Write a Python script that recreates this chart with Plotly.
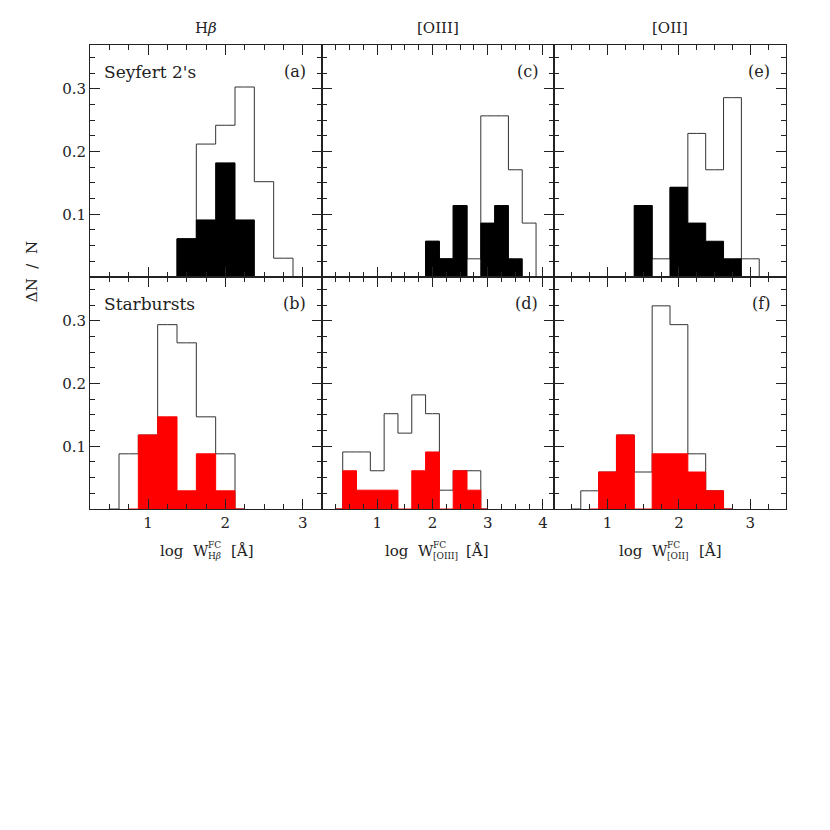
import plotly.graph_objects as go
from plotly.subplots import make_subplots

BIN = 0.25  # histogram bin width in log W

# --- data: bin centres and fractions dN/N ---
# top row: Seyfert 2's (outline = whole sample, filled = subsample)
hb_sy2_x = [1.5, 1.75, 2.0, 2.25, 2.5, 2.75]
hb_sy2_all = [0.061, 0.212, 0.242, 0.303, 0.152, 0.030]
hb_sy2_sub = [0.061, 0.091, 0.182, 0.091, 0.0, 0.0]

o3_sy2_x = [2.0, 2.25, 2.5, 2.75, 3.0, 3.25, 3.5, 3.75]
o3_sy2_all = [0.057, 0.029, 0.114, 0.029, 0.257, 0.257, 0.171, 0.086]
o3_sy2_sub = [0.057, 0.029, 0.114, 0.0, 0.086, 0.114, 0.029, 0.0]

o2_sy2_x = [1.5, 1.75, 2.0, 2.25, 2.5, 2.75, 3.0]
o2_sy2_all = [0.114, 0.029, 0.143, 0.229, 0.171, 0.286, 0.029]
o2_sy2_sub = [0.114, 0.0, 0.143, 0.086, 0.057, 0.029, 0.0]

# bottom row: Starbursts
hb_sb_x = [0.75, 1.0, 1.25, 1.5, 1.75, 2.0]
hb_sb_all = [0.088, 0.118, 0.294, 0.265, 0.147, 0.088]
hb_sb_sub = [0.0, 0.118, 0.147, 0.029, 0.088, 0.029]

o3_sb_x = [0.5, 0.75, 1.0, 1.25, 1.5, 1.75, 2.0, 2.25, 2.5, 2.75]
o3_sb_all = [0.091, 0.091, 0.061, 0.152, 0.121, 0.182, 0.152, 0.030, 0.061, 0.061]
o3_sb_sub = [0.061, 0.030, 0.030, 0.030, 0.0, 0.061, 0.091, 0.0, 0.061, 0.030]

o2_sb_x = [0.75, 1.0, 1.25, 1.5, 1.75, 2.0, 2.25, 2.5]
o2_sb_all = [0.029, 0.059, 0.118, 0.059, 0.324, 0.294, 0.088, 0.029]
o2_sb_sub = [0.0, 0.059, 0.118, 0.0, 0.088, 0.088, 0.059, 0.029]

col_titles = ["H<i>\u03b2</i>", "[OIII]", "[OII]"]
line_subs = ["H<i>\u03b2</i>", "[OIII]", "[OII]"]
x_ranges = [[0.25, 3.25], [0, 4.2], [0.25, 3.5]]
x_ticks = [[1, 2, 3], [1, 2, 3, 4], [1, 2, 3]]
y_ticks = [0.1, 0.2, 0.3]
panel_tags = [["(a)", "(c)", "(e)"], ["(b)", "(d)", "(f)"]]

panels = [
    [(hb_sy2_x, hb_sy2_all, hb_sy2_sub), (o3_sy2_x, o3_sy2_all, o3_sy2_sub), (o2_sy2_x, o2_sy2_all, o2_sy2_sub)],
    [(hb_sb_x, hb_sb_all, hb_sb_sub), (o3_sb_x, o3_sb_all, o3_sb_sub), (o2_sb_x, o2_sb_all, o2_sb_sub)],
]
fill_colors = ["#000000", "#ff0000"]

FONT = "DejaVu Serif"
INK = "#222222"

# pixel offsets of the W / sub-superscript / [Å] pieces from column centre
w_end = [2, -5, -3]
ang_start = [23, 26, 27]


def padded(xs, ys):
    # drop empty end bins, then add a zero bin each side so the step closes
    xs, ys = list(xs), list(ys)
    while ys and ys[-1] == 0:
        xs.pop(); ys.pop()
    while ys and ys[0] == 0:
        xs.pop(0); ys.pop(0)
    return [xs[0] - BIN] + xs + [xs[-1] + BIN], [0] + ys + [0]


fig = make_subplots(rows=2, cols=3, horizontal_spacing=0, vertical_spacing=0)

for r in range(2):
    for c in range(3):
        xs, y_all, y_sub = panels[r][c]
        px, py = padded(xs, y_all)
        fig.add_trace(go.Scatter(x=px, y=py, mode="lines", line_shape="hvh",
                                 line=dict(color="#333333", width=1),
                                 showlegend=False, hoverinfo="skip"),
                      row=r + 1, col=c + 1)
        px, py = padded(xs, y_sub)
        fig.add_trace(go.Scatter(x=px, y=py, mode="lines", line_shape="hvh",
                                 fill="tozeroy", fillcolor=fill_colors[r],
                                 line=dict(color=fill_colors[r], width=1),
                                 showlegend=False, hoverinfo="skip"),
                      row=r + 1, col=c + 1)

for r in range(2):
    for c in range(3):
        fig.update_xaxes(range=x_ranges[c], tickmode="array", tickvals=x_ticks[c],
                         showticklabels=(r == 1),
                         ticks="inside", ticklen=10, tickcolor=INK,
                         minor=dict(tickmode="linear", tick0=0, dtick=0.25,
                                    ticks="inside", ticklen=5, tickcolor=INK),
                         showline=True, linecolor=INK, linewidth=1, mirror="ticks",
                         showgrid=False, zeroline=False,
                         tickfont=dict(family=FONT, size=15, color=INK),
                         row=r + 1, col=c + 1)
        fig.update_yaxes(range=[0, 0.37], tickmode="array", tickvals=y_ticks,
                         showticklabels=(c == 0),
                         ticks="inside", ticklen=10, tickcolor=INK,
                         minor=dict(tickmode="linear", tick0=0, dtick=0.025,
                                    ticks="inside", ticklen=5, tickcolor=INK),
                         showline=True, linecolor=INK, linewidth=1, mirror="ticks",
                         showgrid=False, zeroline=False,
                         tickfont=dict(family=FONT, size=15, color=INK),
                         row=r + 1, col=c + 1)

annots = []
base = dict(xref="paper", yref="paper", showarrow=False, yanchor="middle")
for c in range(3):
    xc = (c + 0.5) / 3
    annots.append(dict(base, x=xc, y=1.037, text=col_titles[c], xanchor="center",
                       font=dict(family=FONT, size=15, color=INK)))
    # x-axis title: log W with stacked super/subscript, then [Å]
    annots.append(dict(base, x=xc, y=-0.0905, xshift=w_end[c] + 3, text="log  W",
                       xanchor="right", font=dict(family=FONT, size=15, color=INK)))
    annots.append(dict(base, x=xc, y=-0.0905, xshift=w_end[c] - 2, yshift=6, text="FC",
                       xanchor="left", font=dict(family=FONT, size=9, color=INK)))
    annots.append(dict(base, x=xc, y=-0.0905, xshift=w_end[c] - 2, yshift=-5, text=line_subs[c],
                       xanchor="left", font=dict(family=FONT, size=9, color=INK)))
    annots.append(dict(base, x=xc, y=-0.0905, xshift=ang_start[c], text="[\u00c5]",
                       xanchor="left", font=dict(family=FONT, size=15, color=INK)))
for r in range(2):
    for c in range(3):
        i = r * 3 + c + 1
        ax = "" if i == 1 else str(i)
        annots.append(dict(x=0.94, y=0.885, xref=f"x{ax} domain", yref=f"y{ax} domain",
                           text=panel_tags[r][c], showarrow=False,
                           xanchor="right", yanchor="middle",
                           font=dict(family=FONT, size=16, color=INK)))
for r, name in enumerate(["Seyfert 2's", "Starbursts"]):
    ax = "" if r == 0 else "4"
    annots.append(dict(x=0.05, y=0.885, xref=f"x{ax} domain", yref=f"y{ax} domain",
                       text=name, showarrow=False, xanchor="left", yanchor="middle",
                       font=dict(family=FONT, size=17, color=INK)))
annots.append(dict(base, x=-0.083, y=0.511, text="\u0394N  /  N", textangle=-90,
                   xanchor="center", font=dict(family=FONT, size=15, color=INK)))

# page body adds ~8 px, so margins are trimmed to land the frame at 90..786, 45..509
fig.update_layout(width=830, height=830,
                  margin=dict(l=82, r=52, t=37, b=329),
                  plot_bgcolor="white", paper_bgcolor="white",
                  annotations=annots)

fig.write_html("out.html")
